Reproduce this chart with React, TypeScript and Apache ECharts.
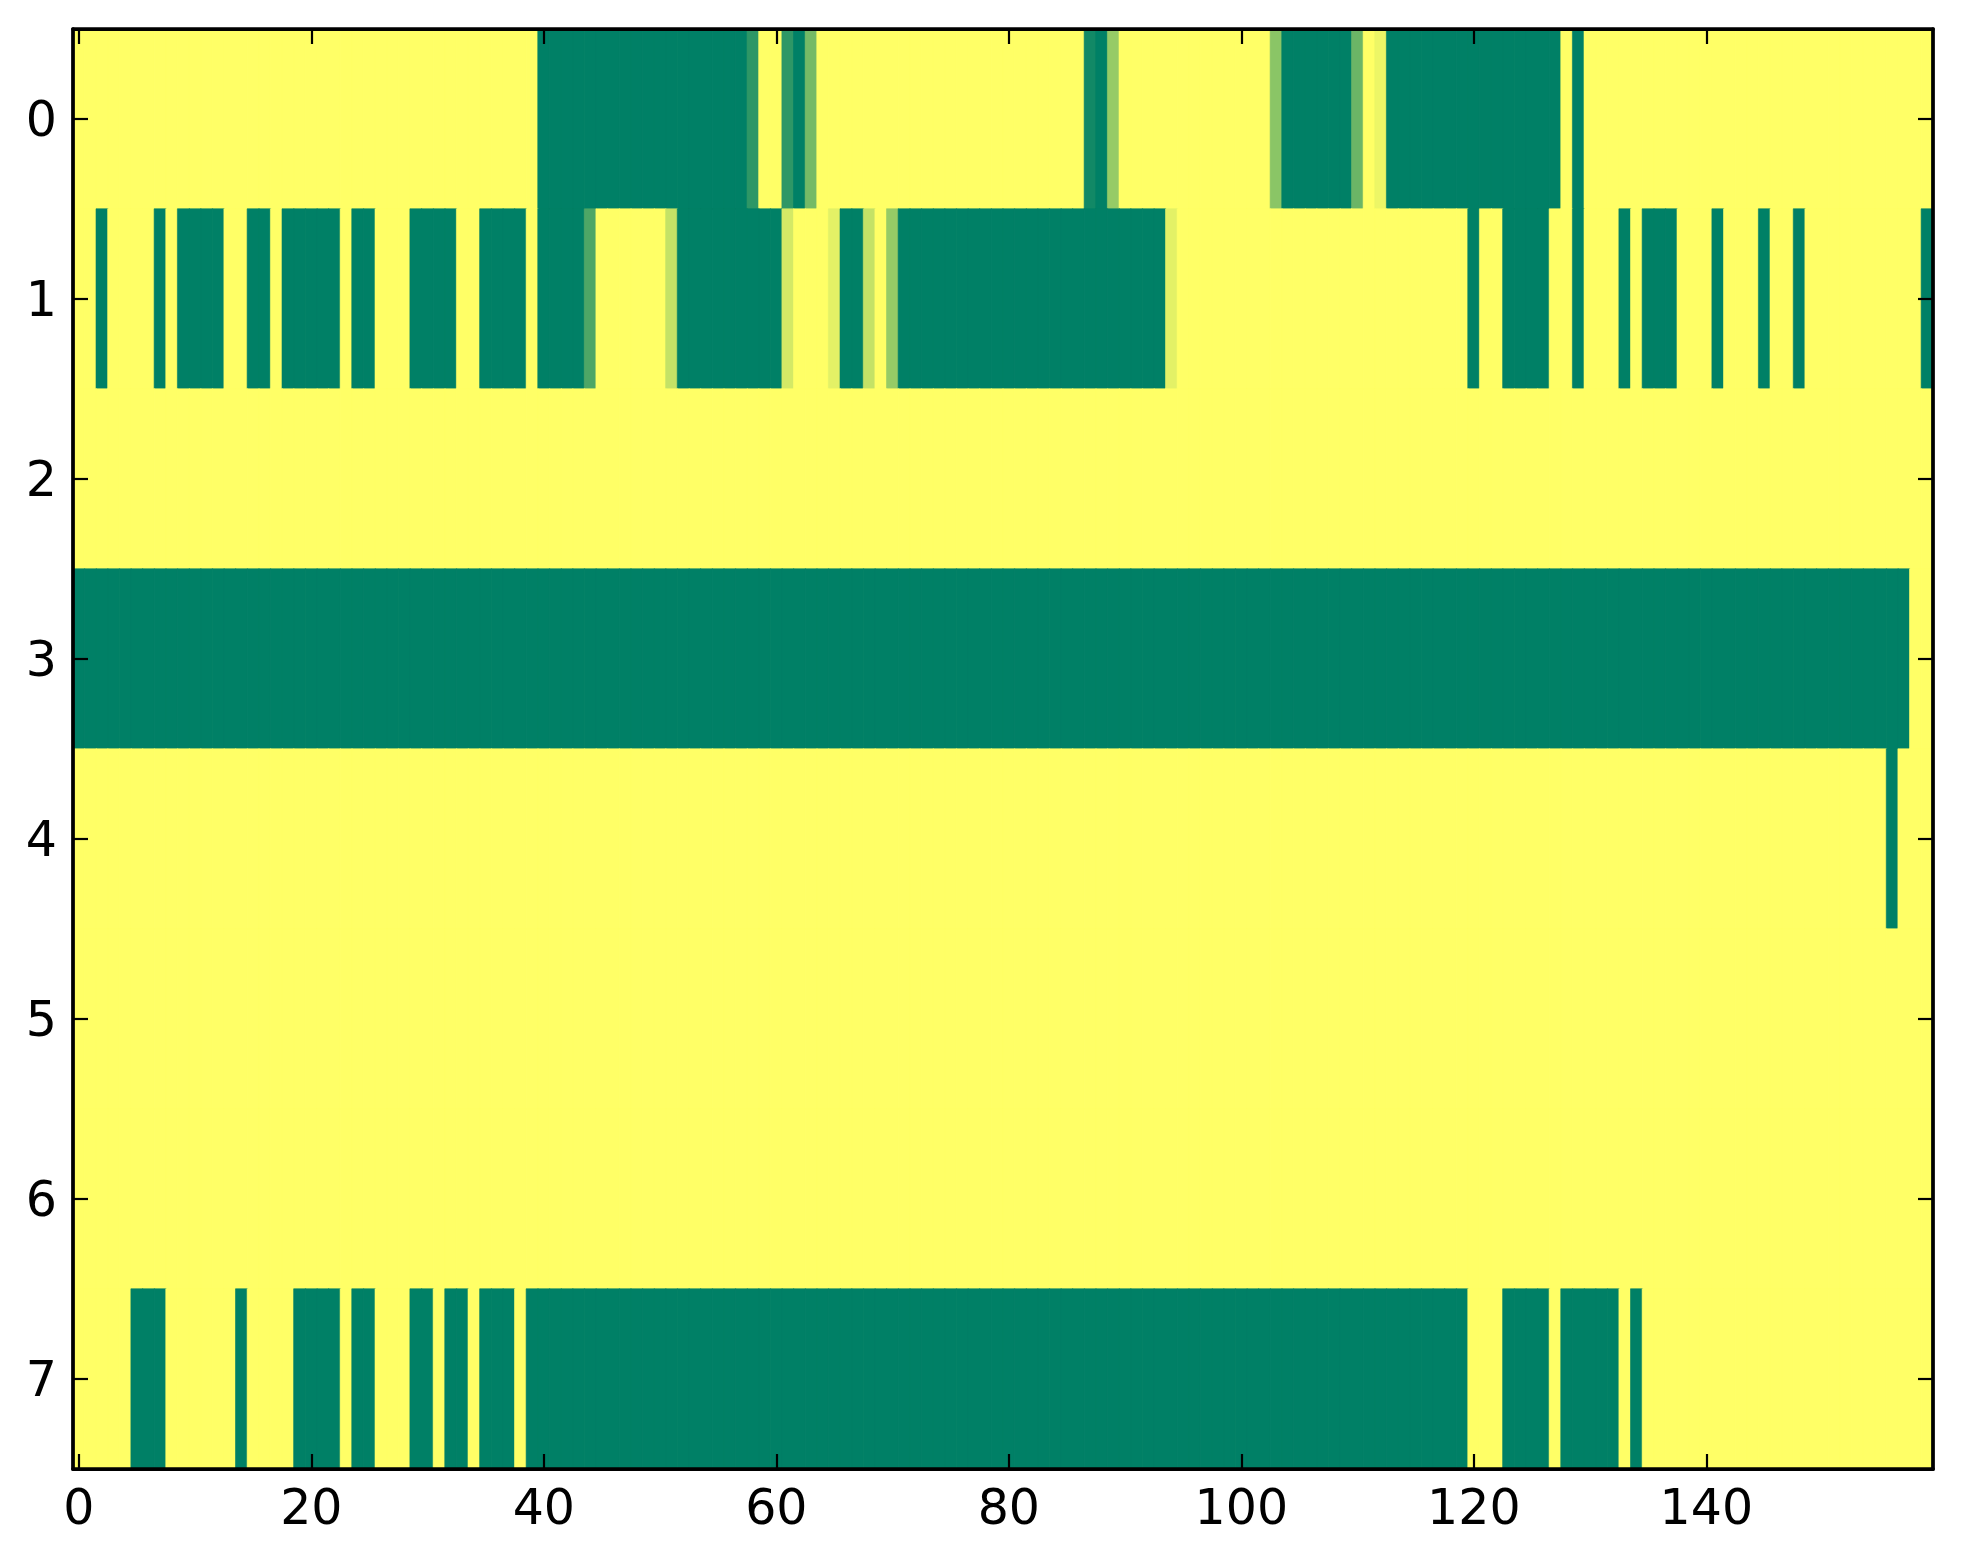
import React, { useEffect, useRef } from "react";
import * as echarts from "echarts";

const xTickLabels = [0, 20, 40, 60, 80, 100, 120, 140];
const yLabels = ["0", "1", "2", "3", "4", "5", "6", "7"];
const nCols = 160;

const row0 = [
  1, 1, 1, 1, 1, 1, 1, 1, 1, 1, 1, 1, 1, 1, 1, 1, 1, 1, 1, 1,
  1, 1, 1, 1, 1, 1, 1, 1, 1, 1, 1, 1, 1, 1, 1, 1, 1, 1, 1, 1,
  0, 0, 0, 0, 0, 0, 0, 0, 0, 0, 0, 0, 0, 0, 0, 0, 0, 0, 0.18, 1,
  1, 0.18, 0, 0.46, 1, 1, 1, 1, 1, 1, 1, 1, 1, 1, 1, 1, 1, 1, 1, 1,
  1, 1, 1, 1, 1, 1, 1, 0.07, 0, 0.59, 1, 1, 1, 1, 1, 1, 1, 1, 1, 1,
  1, 1, 1, 0.54, 0, 0, 0, 0, 0, 0, 0.42, 1, 0.93, 0, 0, 0, 0, 0, 0, 0,
  0, 0, 0, 0, 0, 0, 0, 0, 1, 0, 1, 1, 1, 1, 1, 1, 1, 1, 1, 1,
  1, 1, 1, 1, 1, 1, 1, 1, 1, 1, 1, 1, 1, 1, 1, 1, 1, 1, 1, 1,
];
const row1 = [
  1, 1, 0, 1, 1, 1, 1, 0, 1, 0, 0, 0, 0, 1, 1, 0, 0, 1, 0, 0,
  0, 0, 0, 1, 0, 0, 1, 1, 1, 0, 0, 0, 0, 1, 1, 0, 0, 0, 0, 1,
  0, 0, 0, 0, 0.3, 1, 1, 1, 1, 1, 1, 0.77, 0, 0, 0, 0, 0, 0, 0, 0,
  0, 0.83, 1, 1, 1, 0.89, 0, 0, 0.77, 1, 0.59, 0, 0, 0, 0, 0, 0, 0, 0, 0,
  0, 0, 0, 0, 0, 0, 0, 0, 0, 0, 0, 0, 0, 0, 0.89, 1, 1, 1, 1, 1,
  1, 1, 1, 1, 1, 1, 1, 1, 1, 1, 1, 1, 1, 1, 1, 1, 1, 1, 1, 1,
  0, 1, 1, 0, 0, 0, 0, 1, 1, 0, 1, 1, 1, 0, 1, 0, 0, 0, 1, 1,
  1, 0, 1, 1, 1, 0, 1, 1, 0, 1, 1, 1, 1, 1, 1, 1, 1, 1, 1, 0,
];
const row2 = [
  1, 1, 1, 1, 1, 1, 1, 1, 1, 1, 1, 1, 1, 1, 1, 1, 1, 1, 1, 1,
  1, 1, 1, 1, 1, 1, 1, 1, 1, 1, 1, 1, 1, 1, 1, 1, 1, 1, 1, 1,
  1, 1, 1, 1, 1, 1, 1, 1, 1, 1, 1, 1, 1, 1, 1, 1, 1, 1, 1, 1,
  1, 1, 1, 1, 1, 1, 1, 1, 1, 1, 1, 1, 1, 1, 1, 1, 1, 1, 1, 1,
  1, 1, 1, 1, 1, 1, 1, 1, 1, 1, 1, 1, 1, 1, 1, 1, 1, 1, 1, 1,
  1, 1, 1, 1, 1, 1, 1, 1, 1, 1, 1, 1, 1, 1, 1, 1, 1, 1, 1, 1,
  1, 1, 1, 1, 1, 1, 1, 1, 1, 1, 1, 1, 1, 1, 1, 1, 1, 1, 1, 1,
  1, 1, 1, 1, 1, 1, 1, 1, 1, 1, 1, 1, 1, 1, 1, 1, 1, 1, 1, 1,
];
const row3 = [
  0, 0, 0, 0, 0, 0, 0, 0, 0, 0, 0, 0, 0, 0, 0, 0, 0, 0, 0, 0,
  0, 0, 0, 0, 0, 0, 0, 0, 0, 0, 0, 0, 0, 0, 0, 0, 0, 0, 0, 0,
  0, 0, 0, 0, 0, 0, 0, 0, 0, 0, 0, 0, 0, 0, 0, 0, 0, 0, 0, 0,
  0, 0, 0, 0, 0, 0, 0, 0, 0, 0, 0, 0, 0, 0, 0, 0, 0, 0, 0, 0,
  0, 0, 0, 0, 0, 0, 0, 0, 0, 0, 0, 0, 0, 0, 0, 0, 0, 0, 0, 0,
  0, 0, 0, 0, 0, 0, 0, 0, 0, 0, 0, 0, 0, 0, 0, 0, 0, 0, 0, 0,
  0, 0, 0, 0, 0, 0, 0, 0, 0, 0, 0, 0, 0, 0, 0, 0, 0, 0, 0, 0,
  0, 0, 0, 0, 0, 0, 0, 0, 0, 0, 0, 0, 0, 0, 0, 0, 0, 0, 1, 1,
];
const row4 = [
  1, 1, 1, 1, 1, 1, 1, 1, 1, 1, 1, 1, 1, 1, 1, 1, 1, 1, 1, 1,
  1, 1, 1, 1, 1, 1, 1, 1, 1, 1, 1, 1, 1, 1, 1, 1, 1, 1, 1, 1,
  1, 1, 1, 1, 1, 1, 1, 1, 1, 1, 1, 1, 1, 1, 1, 1, 1, 1, 1, 1,
  1, 1, 1, 1, 1, 1, 1, 1, 1, 1, 1, 1, 1, 1, 1, 1, 1, 1, 1, 1,
  1, 1, 1, 1, 1, 1, 1, 1, 1, 1, 1, 1, 1, 1, 1, 1, 1, 1, 1, 1,
  1, 1, 1, 1, 1, 1, 1, 1, 1, 1, 1, 1, 1, 1, 1, 1, 1, 1, 1, 1,
  1, 1, 1, 1, 1, 1, 1, 1, 1, 1, 1, 1, 1, 1, 1, 1, 1, 1, 1, 1,
  1, 1, 1, 1, 1, 1, 1, 1, 1, 1, 1, 1, 1, 1, 1, 1, 0, 1, 1, 1,
];
const row5 = [
  1, 1, 1, 1, 1, 1, 1, 1, 1, 1, 1, 1, 1, 1, 1, 1, 1, 1, 1, 1,
  1, 1, 1, 1, 1, 1, 1, 1, 1, 1, 1, 1, 1, 1, 1, 1, 1, 1, 1, 1,
  1, 1, 1, 1, 1, 1, 1, 1, 1, 1, 1, 1, 1, 1, 1, 1, 1, 1, 1, 1,
  1, 1, 1, 1, 1, 1, 1, 1, 1, 1, 1, 1, 1, 1, 1, 1, 1, 1, 1, 1,
  1, 1, 1, 1, 1, 1, 1, 1, 1, 1, 1, 1, 1, 1, 1, 1, 1, 1, 1, 1,
  1, 1, 1, 1, 1, 1, 1, 1, 1, 1, 1, 1, 1, 1, 1, 1, 1, 1, 1, 1,
  1, 1, 1, 1, 1, 1, 1, 1, 1, 1, 1, 1, 1, 1, 1, 1, 1, 1, 1, 1,
  1, 1, 1, 1, 1, 1, 1, 1, 1, 1, 1, 1, 1, 1, 1, 1, 1, 1, 1, 1,
];
const row6 = [
  1, 1, 1, 1, 1, 1, 1, 1, 1, 1, 1, 1, 1, 1, 1, 1, 1, 1, 1, 1,
  1, 1, 1, 1, 1, 1, 1, 1, 1, 1, 1, 1, 1, 1, 1, 1, 1, 1, 1, 1,
  1, 1, 1, 1, 1, 1, 1, 1, 1, 1, 1, 1, 1, 1, 1, 1, 1, 1, 1, 1,
  1, 1, 1, 1, 1, 1, 1, 1, 1, 1, 1, 1, 1, 1, 1, 1, 1, 1, 1, 1,
  1, 1, 1, 1, 1, 1, 1, 1, 1, 1, 1, 1, 1, 1, 1, 1, 1, 1, 1, 1,
  1, 1, 1, 1, 1, 1, 1, 1, 1, 1, 1, 1, 1, 1, 1, 1, 1, 1, 1, 1,
  1, 1, 1, 1, 1, 1, 1, 1, 1, 1, 1, 1, 1, 1, 1, 1, 1, 1, 1, 1,
  1, 1, 1, 1, 1, 1, 1, 1, 1, 1, 1, 1, 1, 1, 1, 1, 1, 1, 1, 1,
];
const row7 = [
  1, 1, 1, 1, 1, 0, 0, 0, 1, 1, 1, 1, 1, 1, 0, 1, 1, 1, 1, 0,
  0, 0, 0, 1, 0, 0, 1, 1, 1, 0, 0, 1, 0, 0, 1, 0, 0, 0, 1, 0,
  0, 0, 0, 0, 0, 0, 0, 0, 0, 0, 0, 0, 0, 0, 0, 0, 0, 0, 0, 0,
  0, 0, 0, 0, 0, 0, 0, 0, 0, 0, 0, 0, 0, 0, 0, 0, 0, 0, 0, 0,
  0, 0, 0, 0, 0, 0, 0, 0, 0, 0, 0, 0, 0, 0, 0, 0, 0, 0, 0, 0,
  0, 0, 0, 0, 0, 0, 0, 0, 0, 0, 0, 0, 0, 0, 0, 0, 0, 0, 0, 0,
  1, 1, 1, 0, 0, 0, 0, 1, 0, 0, 0, 0, 0, 1, 0, 1, 1, 1, 1, 1,
  1, 1, 1, 1, 1, 1, 1, 1, 1, 1, 1, 1, 1, 1, 1, 1, 1, 1, 1, 1,
];

const rows = [row0, row1, row2, row3, row4, row5, row6, row7];

// matplotlib "summer" colormap: (v, 0.5 + v/2, 0.4)
function summer(v: number): string {
  const r = Math.round(v * 255);
  const g = Math.round((0.5 + v / 2) * 255);
  const b = 102;
  return `rgb(${r},${g},${b})`;
}

export default function App() {
  const ref = useRef<HTMLDivElement>(null);
  useEffect(() => {
    if (!ref.current) return;
    const chart = echarts.init(ref.current, undefined, { renderer: "svg" });
    const xCats = Array.from({ length: nCols }, (_, i) => String(i));
    const data: any[] = [];
    rows.forEach((row, y) => {
      row.forEach((v, x) => {
        data.push({
          value: [x, y, v],
          itemStyle: { borderColor: summer(v), borderWidth: 0.6 },
        });
      });
    });
    const font = { fontFamily: "DejaVu Sans", fontSize: 49, color: "#000" };
    const tickInterval = (i: number) => xTickLabels.includes(i);
    const axisLine = { show: true, lineStyle: { color: "#000", width: 3.75 } };
    const axisTick = {
      show: true,
      inside: true,
      length: 15,
      lineStyle: { color: "#000", width: 2.2 },
    };
    chart.setOption({
      animation: false,
      backgroundColor: "#fff",
      grid: { left: 73, top: 29, width: 1860, height: 1440, containLabel: false },
      xAxis: [
        {
          type: "category",
          data: xCats,
          position: "bottom",
          z: 10,
          axisLine,
          axisTick: { ...axisTick, alignWithLabel: true, interval: tickInterval },
          axisLabel: { ...font, margin: 14, interval: tickInterval },
          splitLine: { show: false },
        },
        {
          type: "category",
          data: xCats,
          position: "top",
          z: 10,
          axisLine,
          axisTick: { ...axisTick, alignWithLabel: true, interval: tickInterval },
          axisLabel: { show: false },
          splitLine: { show: false },
        },
      ],
      yAxis: [
        {
          type: "category",
          data: yLabels,
          inverse: true,
          position: "left",
          z: 10,
          axisLine,
          axisTick: { ...axisTick, alignWithLabel: true, interval: 0 },
          axisLabel: { ...font, margin: 16, interval: 0 },
          splitLine: { show: false },
        },
        {
          type: "category",
          data: yLabels,
          inverse: true,
          position: "right",
          z: 10,
          axisLine,
          axisTick: { ...axisTick, alignWithLabel: true, interval: 0 },
          axisLabel: { show: false },
          splitLine: { show: false },
        },
      ],
      visualMap: {
        show: false,
        type: "continuous",
        min: 0,
        max: 1,
        dimension: 2,
        seriesIndex: 0,
        inRange: { color: ["#008066", "#ffff66"] },
      },
      series: [
        {
          type: "heatmap",
          xAxisIndex: 0,
          yAxisIndex: 0,
          data,
          itemStyle: { borderWidth: 0 },
          emphasis: { disabled: true },
        },
      ],
    });
    return () => chart.dispose();
  }, []);
  return (
    <div
      ref={ref}
      style={{ position: "fixed", left: 0, top: 0, width: 1963, height: 1564 }}
    />
  );
}
